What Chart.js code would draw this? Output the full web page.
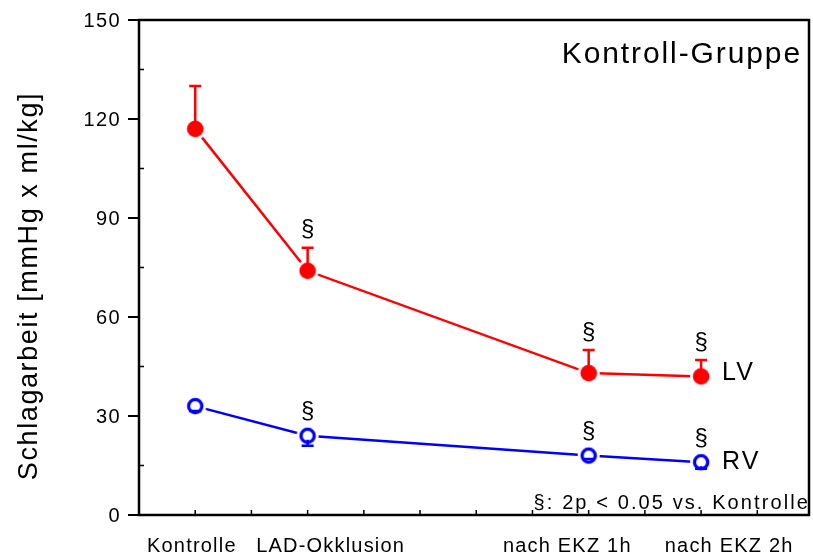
<!DOCTYPE html>
<html lang="de">
<head>
<meta charset="UTF-8">
<title>Schlagarbeit - Kontroll-Gruppe</title>
<script src="https://cdn.jsdelivr.net/npm/chart.js@4"></script>
<style>
  body { margin: 0; background: #fff; }
  #wrap { width: 813px; height: 557px; }
</style>
</head>
<body>
<div id="wrap"><canvas id="chart" width="813" height="557"></canvas></div>
<script>
// 横軸のカテゴリ
const categories = ['Kontrolle', 'LAD-Okklusion', 'nach EKZ 1h', 'nach EKZ 2h'];
// 測定点の横軸上の位置（目盛り単位）
const timePoints = [1, 3, 8, 10];
// カテゴリ名の中心位置（目盛り単位）
const labelPoints = [0.94, 3.41, 7.62, 10.5];

// LV（平均値・誤差・有意差あり）
const lvMean = [117, 74, 43, 42];
const lvSem = [13, 7, 7, 5];
const lvSig = [false, true, true, true];

// RV（平均値・誤差・有意差あり）
const rvMean = [33, 24, 18, 16];
const rvSem = [1.5, 3, 1, 2];
const rvSig = [false, true, true, true];

// 目盛り
const yTicks = [0, 30, 60, 90, 120, 150];
const yMinorTicks = [15, 45, 75, 105, 135];
const xMinorTicks = [1, 2, 3, 4, 5, 6, 7, 8, 9, 10, 11];

const RED = '#ff0000';
const BLUE = '#0000ff';
const FONT = "'Liberation Sans', Arial, sans-serif";

Chart.defaults.font.family = FONT;
Chart.defaults.color = '#000';

// マーカー画像（白いふち付き）を作る
function makeMarker(filled, color) {
    const c = document.createElement('canvas');
    c.width = 24;
    c.height = 24;
    const g = c.getContext('2d');
    g.fillStyle = '#fff';
    g.beginPath();
    g.arc(12, 12, 11, 0, Math.PI * 2);
    g.fill();
    g.beginPath();
    if (filled) {
        g.fillStyle = color;
        g.arc(12, 12, 8.3, 0, Math.PI * 2);
        g.fill();
    } else {
        g.strokeStyle = color;
        g.lineWidth = 3.3;
        g.arc(12, 12, 6.6, 0, Math.PI * 2);
        g.stroke();
    }
    return c;
}

const series = [
    { name: 'LV', mean: lvMean, sem: lvSem, sig: lvSig, color: RED, up: true, filled: true },
    { name: 'RV', mean: rvMean, sem: rvSem, sig: rvSig, color: BLUE, up: false, filled: false }
];

// 誤差棒・§・ラベル・枠線などを描くプラグイン
const extrasPlugin = {
    id: 'extras',
    beforeDraw(chart) {
        chart.ctx.letterSpacing = '1.2px';
    },
    afterDatasetsDraw(chart) {
        const ctx = chart.ctx;
        const xs = chart.scales.x;
        const ys = chart.scales.y;
        ctx.save();
        ctx.lineWidth = 2.5;
        series.forEach(s => {
            ctx.strokeStyle = s.color;
            s.mean.forEach((v, i) => {
                const px = xs.getPixelForValue(timePoints[i]);
                const py = ys.getPixelForValue(v);
                const end = ys.getPixelForValue(s.up ? v + s.sem[i] : v - s.sem[i]);
                const start = s.up ? py : py + 4;
                ctx.beginPath();
                ctx.moveTo(px, start);
                ctx.lineTo(px, end);
                ctx.moveTo(px - 6, end);
                ctx.lineTo(px + 6, end);
                ctx.stroke();
            });
        });
        ctx.restore();
    },
    afterDraw(chart) {
        const ctx = chart.ctx;
        const area = chart.chartArea;
        const xs = chart.scales.x;
        const ys = chart.scales.y;
        ctx.save();

        // 枠線
        ctx.strokeStyle = '#000';
        ctx.lineWidth = 2.5;
        ctx.strokeRect(area.left, area.top, area.right - area.left, area.bottom - area.top);

        // 内向きの小さい目盛り
        ctx.lineWidth = 1.5;
        ctx.beginPath();
        yMinorTicks.forEach(v => {
            const py = ys.getPixelForValue(v);
            ctx.moveTo(area.left, py);
            ctx.lineTo(area.left + 5, py);
        });
        xMinorTicks.forEach(v => {
            const px = xs.getPixelForValue(v);
            ctx.moveTo(px, area.bottom);
            ctx.lineTo(px, area.bottom - 5);
        });
        ctx.stroke();

        ctx.fillStyle = '#000';

        // 縦軸の目盛りラベル
        ctx.font = '20px ' + FONT;
        ctx.letterSpacing = '1.4px';
        ctx.textAlign = 'right';
        ctx.textBaseline = 'middle';
        yTicks.forEach(v => {
            ctx.fillText(String(v), area.left - 18, ys.getPixelForValue(v) + 1);
        });

        // 縦軸タイトル
        ctx.save();
        ctx.translate(37, 286);
        ctx.rotate(-Math.PI / 2);
        ctx.font = '27px ' + FONT;
        ctx.letterSpacing = '1.6px';
        ctx.textAlign = 'center';
        ctx.textBaseline = 'alphabetic';
        ctx.fillText('Schlagarbeit [mmHg x ml/kg]', 0, 0);
        ctx.restore();

        // グループ名
        ctx.font = '30px ' + FONT;
        ctx.letterSpacing = '1.9px';
        ctx.textAlign = 'right';
        ctx.textBaseline = 'alphabetic';
        ctx.fillText('Kontroll-Gruppe', area.right - 7, area.top + 43);

        // 注釈
        ctx.font = '20px ' + FONT;
        ctx.letterSpacing = '2.1px';
        ctx.fillText('§: 2p < 0.05 vs. Kontrolle', area.right + 1, area.bottom - 6);

        // § マーク と 系列ラベル
        series.forEach(s => {
            ctx.font = '24px ' + FONT;
            ctx.letterSpacing = '0px';
            ctx.textAlign = 'center';
            ctx.textBaseline = 'middle';
            s.mean.forEach((v, i) => {
                if (!s.sig[i]) return;
                const px = xs.getPixelForValue(timePoints[i]);
                const py = s.up ? ys.getPixelForValue(v + s.sem[i]) - 18 : ys.getPixelForValue(v) - 24;
                ctx.fillText('§', px, py);
            });
            const last = s.mean.length - 1;
            ctx.font = '25px ' + FONT;
            ctx.letterSpacing = '2px';
            ctx.textAlign = 'left';
            ctx.fillText(s.name, xs.getPixelForValue(timePoints[last]) + 21,
                ys.getPixelForValue(s.mean[last]) - (s.up ? 3 : 0));
        });

        ctx.restore();
    }
};

const ctx = document.getElementById('chart').getContext('2d');
new Chart(ctx, {
    type: 'line',
    data: {
        datasets: series.map(s => ({
            label: s.name,
            data: s.mean.map((v, i) => ({ x: timePoints[i], y: v })),
            borderColor: s.color,
            borderWidth: 2.5,
            pointStyle: makeMarker(s.filled, s.color),
            pointRadius: 8,
            pointHoverRadius: 8,
            tension: 0,
            fill: false
        }))
    },
    options: {
        responsive: false,
        animation: false,
        layout: {
            autoPadding: false, // マーカー分の自動余白をやめる
            padding: { left: 0, top: 20, right: 4, bottom: 0 }
        },
        plugins: {
            legend: { display: false },
            tooltip: { enabled: false }
        },
        scales: {
            x: {
                type: 'linear',
                min: 0,
                max: 11.92,
                afterFit: scale => {
                    scale.height = 42;
                    scale.paddingLeft = 0;
                    scale.paddingRight = 0;
                },
                afterBuildTicks: scale => {
                    scale.ticks = labelPoints.map(v => ({ value: v }));
                },
                grid: { display: false, drawTicks: false },
                border: { display: false },
                ticks: {
                    autoSkip: false,
                    maxRotation: 0,
                    minRotation: 0,
                    padding: 19,
                    font: { size: 20 },
                    callback: (value, index) => categories[index]
                }
            },
            y: {
                min: 0,
                max: 150,
                afterFit: scale => {
                    scale.width = 139;
                    scale.paddingTop = 0;
                    scale.paddingBottom = 0;
                },
                afterBuildTicks: scale => {
                    scale.ticks = yTicks.map(v => ({ value: v }));
                },
                grid: {
                    drawOnChartArea: false,
                    drawTicks: true,
                    tickLength: 11,
                    color: '#000',
                    lineWidth: 2
                },
                border: { display: false },
                ticks: { display: false }
            }
        }
    },
    plugins: [extrasPlugin]
});
</script>
</body>
</html>
